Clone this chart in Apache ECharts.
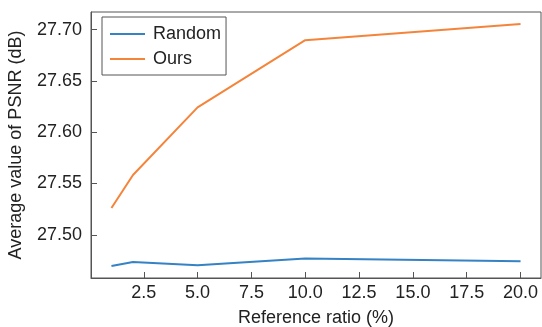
<!DOCTYPE html>
<html>
<head>
<meta charset="utf-8">
<script src="https://cdn.jsdelivr.net/npm/echarts@6/dist/echarts.min.js"></script>
<style>
  html, body { margin: 0; padding: 0; background: #fff; }
  #main { width: 542px; height: 327px; }
</style>
</head>
<body>
<div id="main"></div>
<script>
// reference ratio (%) on x
var ratios = [1, 2, 5, 10, 20];
var randomPsnr = [27.4697, 27.4736, 27.4703, 27.4768, 27.4742];
var oursPsnr = [27.5261, 27.5583, 27.6242, 27.6897, 27.7054];
var xTicks = [2.5, 5.0, 7.5, 10.0, 12.5, 15.0, 17.5, 20.0];
var yTicks = [27.50, 27.55, 27.60, 27.65, 27.70];

function pairs(xs, ys) {
  return xs.map(function (x, i) { return [x, ys[i]]; });
}

var font = 'Liberation Sans, Arial, sans-serif';
var chart = echarts.init(document.getElementById('main'));

var option = {
  animation: false,
  grid: {
    left: 91, top: 12, right: 1, bottom: 49,
    outerBoundsMode: 'none',
    show: true, borderColor: '#555', borderWidth: 1
  },
  legend: {
    orient: 'vertical',
    left: 102, top: 17,
    icon: 'rect',
    itemWidth: 35, itemHeight: 2,
    itemGap: 7,
    padding: [8, 5, 7, 8],
    borderColor: '#555', borderWidth: 1,
    textStyle: { fontFamily: font, fontSize: 18, lineHeight: 18, color: '#222', padding: [0, 0, 0, 3] },
    data: ['Random', 'Ours']
  },
  xAxis: {
    type: 'value',
    min: 0.05, max: 20.95,
    name: 'Reference ratio (%)',
    nameLocation: 'middle',
    nameGap: 31,
    nameTextStyle: { fontFamily: font, fontSize: 18, color: '#222' },
    axisLine: { lineStyle: { color: '#555' } },
    axisTick: { inside: true, length: 6, customValues: xTicks, lineStyle: { color: '#555' } },
    axisLabel: {
      customValues: xTicks, fontFamily: font, fontSize: 18, color: '#222', margin: 6,
      formatter: function (v) { return v.toFixed(1); }
    },
    splitLine: { show: false }
  },
  yAxis: {
    type: 'value',
    min: 27.4579, max: 27.7172,
    name: 'Average value of PSNR (dB)',
    nameLocation: 'middle',
    nameGap: 66,
    nameTextStyle: { fontFamily: font, fontSize: 18, color: '#222' },
    axisLine: { show: true, lineStyle: { color: '#555' } },
    axisTick: { show: true, inside: true, length: 6, customValues: yTicks, lineStyle: { color: '#555' } },
    axisLabel: {
      customValues: yTicks, fontFamily: font, fontSize: 18, color: '#222', margin: 9,
      formatter: function (v) { return v.toFixed(2); }
    },
    splitLine: { show: false }
  },
  series: [
    {
      name: 'Random', type: 'line', symbol: 'none',
      data: pairs(ratios, randomPsnr),
      lineStyle: { color: '#3582c4', width: 2 },
      itemStyle: { color: '#3582c4' }
    },
    {
      name: 'Ours', type: 'line', symbol: 'none',
      data: pairs(ratios, oursPsnr),
      lineStyle: { color: '#f5843b', width: 2 },
      itemStyle: { color: '#f5843b' }
    }
  ]
};

chart.setOption(option);
</script>
</body>
</html>
